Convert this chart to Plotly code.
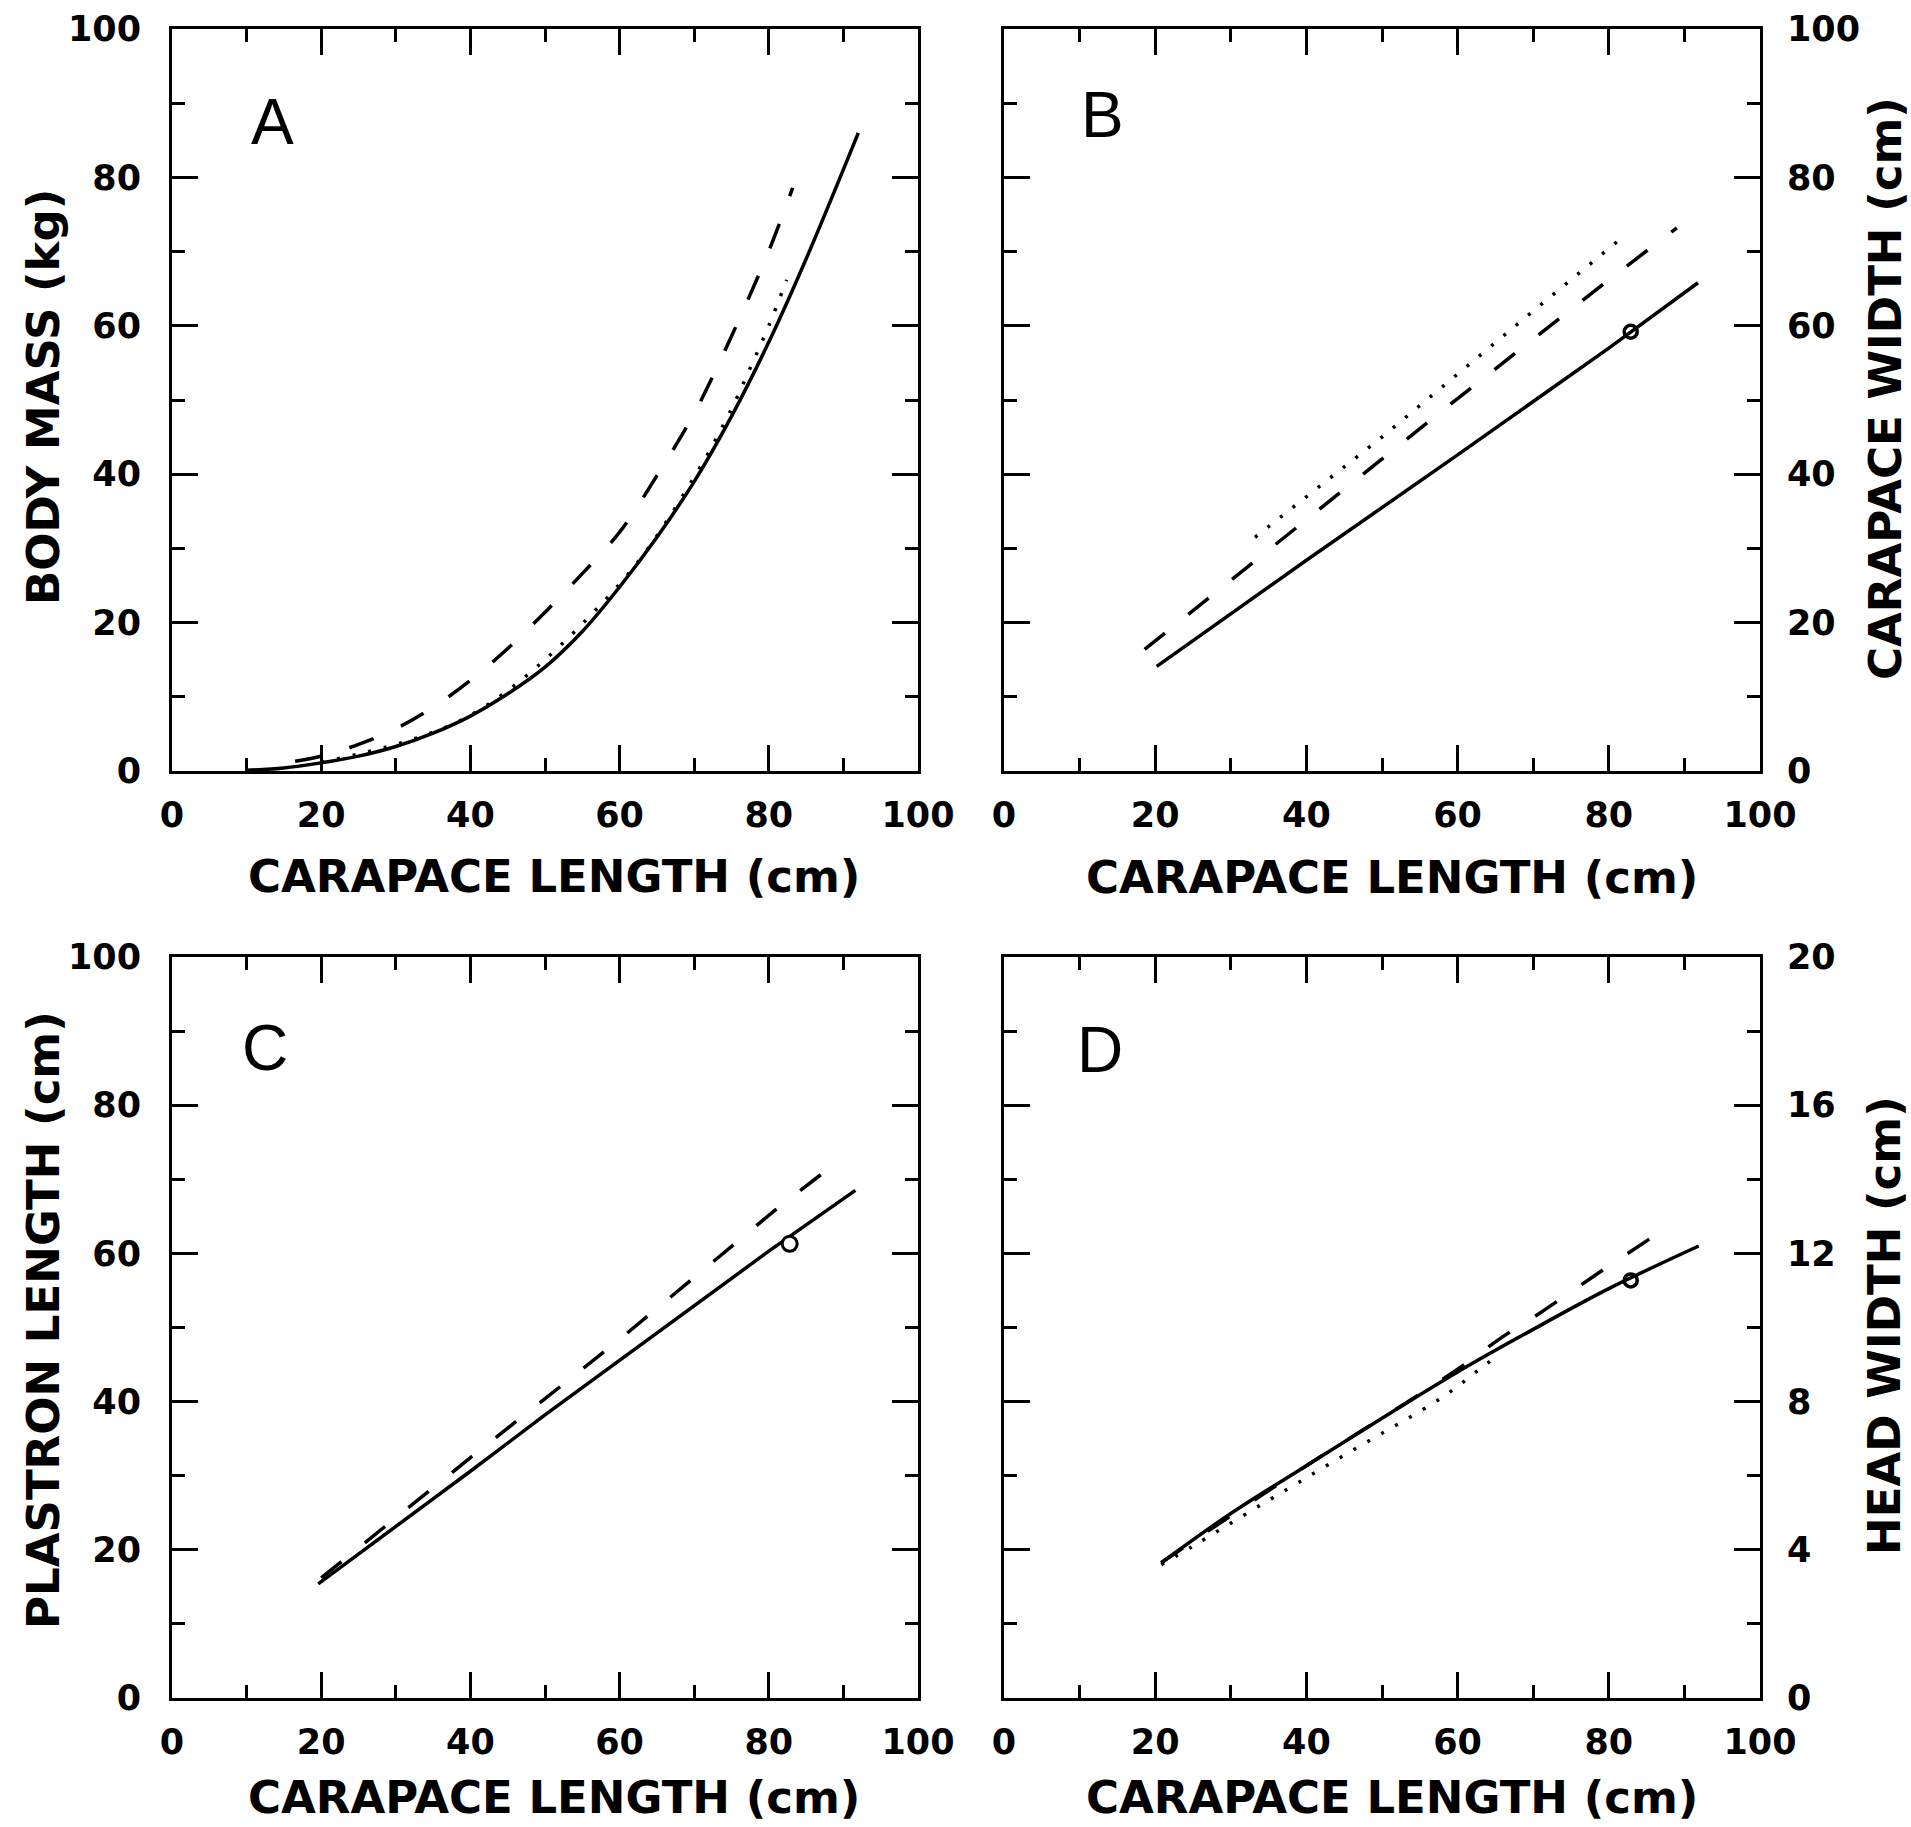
import plotly.graph_objects as go

W, H = 1911, 1827

# ---- panel A: body mass vs carapace length
a_solid_x = [10, 15, 20, 25, 30, 35, 40, 45, 50, 55, 60, 65, 70, 75, 80, 85, 92]
a_solid_y = [0.1, 0.4, 1.1, 2.0, 3.3, 5.1, 7.4, 10.4, 14.0, 18.8, 24.8, 31.5, 39.0, 47.8, 57.8, 69.0, 86.0]
a_dash_x = [16.5, 20, 25, 30, 35, 40, 45, 50, 55, 60, 65, 70, 75, 80, 83.2]
a_dash_y = [1.3, 2.0, 3.6, 5.7, 8.6, 12.2, 16.5, 21.4, 26.6, 32.2, 39.8, 48.2, 58.6, 70.1, 78.6]
a_dot_x = [20, 40, 60, 70, 75, 77.5, 80, 82.4]
a_dot_y = [1.2, 7.5, 25.2, 39.6, 48.8, 54.3, 60.0, 66.2]

# ---- panel B: carapace width
b_solid_x = [20.2, 40, 60, 80, 91.8]
b_solid_y = [14.1, 28.4, 42.6, 57.0, 65.8]
b_dash_x = [18.6, 40, 60, 80, 89.0]
b_dash_y = [16.4, 33.8, 50.2, 66.2, 73.2]
b_dot_x = [33.2, 50, 70, 81.3]
b_dot_y = [31.5, 45.0, 62.0, 71.5]
b_pt_x = [82.9]
b_pt_y = [59.2]

# ---- panel C: plastron length
c_solid_x = [19.6, 30, 40, 50, 60, 70, 80, 91.6]
c_solid_y = [15.4, 23.1, 30.6, 38.2, 45.6, 53.0, 60.3, 68.5]
c_dash_x = [20, 30, 40.7, 50.9, 60.6, 70.9, 80.8, 87.2]
c_dash_y = [16.2, 24.3, 33.0, 41.1, 48.9, 57.5, 65.8, 70.8]
c_pt_x = [82.8]
c_pt_y = [61.3]

# ---- panel D: head width
d_solid_x = [20.8, 30, 40, 50, 60, 70, 80, 91.9]
d_solid_y = [3.65, 4.98, 6.27, 7.55, 8.8, 9.95, 11.05, 12.2]
d_dash_x = [20.8, 40, 55, 60.9, 65.9, 70.9, 75.9, 80.8, 86.6]
d_dash_y = [3.65, 6.27, 8.2, 9.0, 9.74, 10.39, 11.09, 11.77, 12.55]
d_dot_x = [20.8, 25, 33.4, 44.9, 58.0, 62.7, 65]
d_dot_y = [3.6, 4.1, 5.14, 6.54, 8.12, 8.84, 9.2]
d_pt_x = [82.9]
d_pt_y = [11.27]

DASH = "26px,30px"
DOT = "3px,13px"
LW = 3.5

fig = go.Figure()


def add_line(x, y, xa, ya, dash="solid", shape="linear"):
    fig.add_trace(go.Scatter(x=x, y=y, xaxis=xa, yaxis=ya, mode="lines",
                             line=dict(color="black", width=LW, dash=dash, shape=shape),
                             showlegend=False, hoverinfo="skip"))


add_line(a_solid_x, a_solid_y, "x", "y", shape="spline")
add_line(a_dash_x, a_dash_y, "x", "y", dash=DASH, shape="spline")
add_line(a_dot_x, a_dot_y, "x", "y", dash=DOT, shape="spline")

add_line(b_solid_x, b_solid_y, "x2", "y2")
add_line(b_dash_x, b_dash_y, "x2", "y2", dash=DASH)
add_line(b_dot_x, b_dot_y, "x2", "y2", dash=DOT)
fig.add_trace(go.Scatter(x=b_pt_x, y=b_pt_y, xaxis="x2", yaxis="y2", mode="markers",
                         marker=dict(symbol="circle-open", size=13, color="black", line=dict(width=3.5)),
                         showlegend=False))

add_line(c_solid_x, c_solid_y, "x3", "y3")
add_line(c_dash_x, c_dash_y, "x3", "y3", dash=DASH)
fig.add_trace(go.Scatter(x=c_pt_x, y=c_pt_y, xaxis="x3", yaxis="y3", mode="markers",
                         marker=dict(symbol="circle", size=15, color="white",
                                     line=dict(width=3, color="black")),
                         showlegend=False))

add_line(d_solid_x, d_solid_y, "x4", "y4", shape="spline")
add_line(d_dash_x, d_dash_y, "x4", "y4", dash=DASH, shape="spline")
add_line(d_dot_x, d_dot_y, "x4", "y4", dash=DOT, shape="spline")
fig.add_trace(go.Scatter(x=d_pt_x, y=d_pt_y, xaxis="x4", yaxis="y4", mode="markers",
                         marker=dict(symbol="circle-open", size=13, color="black", line=dict(width=3.5)),
                         showlegend=False))

tick_font = dict(family="DejaVu Sans", size=35, color="black", weight="bold")
title_font = dict(family="DejaVu Sans", size=45, color="black", weight="bold")


def xax(domain, anchor):
    return dict(domain=domain, anchor=anchor, range=[0, 100], tickvals=[0, 20, 40, 60, 80, 100],
                ticks="inside", ticklen=26, tickwidth=3, tickcolor="black",
                minor=dict(dtick=10, tick0=0, ticks="inside", ticklen=13, tickwidth=3, tickcolor="black"),
                showline=True, linewidth=3, linecolor="black", mirror="allticks",
                showgrid=False, zeroline=False, tickfont=tick_font, ticklabelstandoff=11,
                automargin=False, fixedrange=True)


def yax(domain, anchor, side, rng, dtick):
    return dict(domain=domain, anchor=anchor, side=side, range=rng, dtick=dtick, tick0=0,
                ticks="inside", ticklen=26, tickwidth=3, tickcolor="black",
                minor=dict(dtick=dtick / 2, tick0=0, ticks="inside", ticklen=13, tickwidth=3,
                           tickcolor="black"),
                showline=True, linewidth=3, linecolor="black", mirror="allticks",
                showgrid=False, zeroline=False, tickfont=tick_font,
                ticklabelstandoff=21 if side == "left" else 17,
                automargin=False, fixedrange=True)


xl = [172 / W, 918 / W]
xr = [1004 / W, 1760 / W]
yt = [1 - 771 / H, 1 - 29 / H]
yb = [1 - 1698 / H, 1 - 957 / H]

fig.update_layout(
    width=W, height=H, margin=dict(l=0, r=0, t=0, b=0, autoexpand=False),
    paper_bgcolor="white", plot_bgcolor="white", showlegend=False,
    xaxis=xax(xl, "y"), yaxis=yax(yt, "x", "left", [0, 100], 20),
    xaxis2=xax(xr, "y2"), yaxis2=yax(yt, "x2", "right", [0, 100], 20),
    xaxis3=xax(xl, "y3"), yaxis3=yax(yb, "x3", "left", [0, 100], 20),
    xaxis4=xax(xr, "y4"), yaxis4=yax(yb, "x4", "right", [0, 20], 4),
)

# axis titles
titles = [
    ("CARAPACE LENGTH (cm)", 554, 876, 0),
    ("CARAPACE LENGTH (cm)", 1392, 878, 0),
    ("CARAPACE LENGTH (cm)", 554, 1797, 0),
    ("CARAPACE LENGTH (cm)", 1392, 1797, 0),
    ("BODY MASS (kg)", 43, 397, -90),
    ("PLASTRON LENGTH (cm)", 43, 1320, -90),
    ("CARAPACE WIDTH (cm)", 1885, 389, -90),
    ("HEAD WIDTH (cm)", 1884, 1326, -90),
]
for txt, px, py, ang in titles:
    fig.add_annotation(text=txt, x=px / W, y=1 - py / H, xref="paper", yref="paper",
                       xanchor="center", yanchor="middle", textangle=ang,
                       showarrow=False, font=title_font)

# panel letters
letter_font = dict(family="Liberation Sans", size=64, color="black")
for txt, xa, ya, lx, ly in [("A", "x", "y", 13.5, 87.4), ("B", "x2", "y2", 13.0, 88.4),
                            ("C", "x3", "y3", 12.4, 87.7), ("D", "x4", "y4", 12.7, 17.5)]:
    fig.add_annotation(text=txt, x=lx, y=ly, xref=xa, yref=ya, showarrow=False,
                       xanchor="center", yanchor="middle", font=letter_font)

# page body has a default 8px margin; drop it so the figure fills the window
fig.write_html("out.html", config={"displayModeBar": False},
               post_script="document.body.style.margin='0';document.body.style.overflow='hidden';")
